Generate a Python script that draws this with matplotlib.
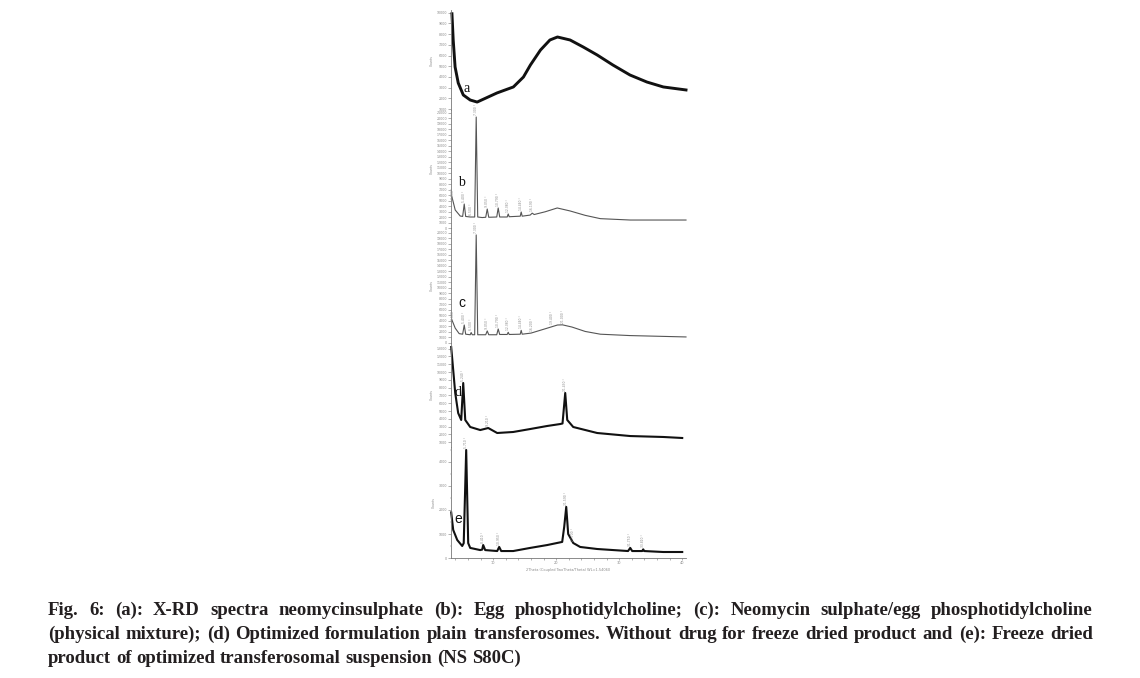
import numpy as np
import matplotlib
matplotlib.use('Agg')
from matplotlib import pyplot as plt
from matplotlib.ticker import MultipleLocator

W, H = 1140, 678

# --- data (2theta in degrees, intensity in counts) ---
tt_a = [3.45, 3.65, 3.95, 4.45, 5.25, 6.35, 7.45, 10.6, 13.2, 14.8, 15.9, 17.5,
        19.0, 20.2, 22.2, 24.3, 26.5, 29.0, 31.7, 34.4, 37.0, 40.6]
counts_a = [9900, 7450, 4930, 3430, 2310, 1840, 1650, 2500, 3060, 3990, 5110,
            6510, 7450, 7730, 7450, 6790, 6050, 5110, 4180, 3520, 3060, 2780]

tt_b = [3.45, 3.97, 4.76, 5.15, 5.40, 5.63, 6.35, 7.06, 7.30, 7.54, 8.25, 8.81,
        9.05, 9.29, 10.56, 10.79, 11.03, 12.22, 12.38, 12.54, 14.29, 14.44,
        14.60, 15.87, 16.19, 16.5, 18.25, 20.16, 22.2, 24.6, 27.0, 31.75, 40.6]
counts_b = [5640, 3270, 2180, 2100, 4360, 2100, 2000, 2000, 20180, 2000, 1900,
            1950, 3450, 1950, 2000, 3640, 2000, 2000, 2550, 2050, 2150, 2910,
            2150, 2350, 2700, 2450, 2950, 3640, 3100, 2300, 1700, 1450, 1450]
peaks_b = [3.6, 5.40, 6.5, 7.30, 9.05, 10.79, 12.38, 14.44, 16.19]

tt_c = [3.45, 3.97, 4.6, 5.15, 5.40, 5.63, 6.35, 6.50, 6.67, 7.06, 7.30, 7.54,
        8.81, 9.05, 9.29, 10.56, 10.79, 11.03, 12.22, 12.38, 12.54, 14.29,
        14.44, 14.60, 16.0, 18.3, 20.2, 21.0, 22.5, 24.6, 27.0, 31.7, 40.6]
counts_c = [4180, 2700, 1700, 1600, 3270, 1600, 1500, 1900, 1500, 1500, 19640,
            1500, 1500, 2200, 1500, 1500, 2550, 1550, 1550, 1950, 1550, 1600,
            2300, 1600, 1800, 2600, 3270, 3300, 2900, 2100, 1600, 1350, 1100]
peaks_c = [3.6, 5.40, 6.50, 7.30, 9.05, 10.79, 12.38, 14.44, 16.2, 19.4, 21.0]

tt_d = [3.33, 3.65, 3.97, 4.44, 4.92, 5.24, 5.56, 6.35, 7.94, 9.21, 10.63,
        13.17, 15.87, 18.57, 20.63, 21.0, 21.43, 21.75, 22.7, 26.5, 31.75,
        36.98, 40.0]
counts_d = [13200, 10260, 7310, 4740, 3850, 8590, 3850, 2950, 2560, 2820, 2180,
            2310, 2690, 3080, 3330, 3400, 7310, 3850, 2950, 2180, 1790, 1670,
            1540]
peaks_d = [5.24, 9.21, 21.43]

tt_e = [3.33, 3.65, 4.29, 5.08, 5.32, 5.71, 6.03, 6.35, 7.94, 8.25, 8.41, 8.73,
        10.63, 10.95, 11.27, 13.17, 15.87, 18.57, 20.95, 21.27, 21.59, 21.9,
        22.7, 23.8, 26.5, 31.4, 31.75, 32.06, 33.65, 33.81, 33.97, 36.98, 40.0]
counts_e = [1900, 1170, 750, 500, 620, 4500, 620, 420, 330, 350, 540, 330, 290,
            460, 290, 290, 420, 540, 670, 1300, 2130, 1000, 625, 460, 375, 290,
            420, 290, 290, 360, 290, 250, 250]
peaks_e = [5.71, 8.41, 10.95, 21.59, 22.7, 31.75, 33.81]

caption = [
    'Fig. 6: (a): X-RD spectra neomycinsulphate (b): Egg phosphotidylcholine; '
    '(c): Neomycin sulphate/egg phosphotidylcholine',
    '(physical mixture); (d) Optimized formulation plain transferosomes. '
    'Without drug for freeze dried product and (e): Freeze dried',
    'product of optimized transferosomal suspension (NS S80C)',
]

fig = plt.figure(figsize=(W / 100, H / 100), dpi=100)
fig.patch.set_facecolor('white')


def px_axes(top, bottom, left=451, right=686):
    return fig.add_axes([left / W, 1 - bottom / H, (right - left) / W,
                         (bottom - top) / H])


def style_panel(ax, ylim, step, last=False):
    ax.set_xlim(3.3, 40.6)
    ax.set_ylim(*ylim)
    ax.set_facecolor('none')
    for side in ['top', 'right']:
        ax.spines[side].set_visible(False)
    ax.spines['left'].set_color('#777777')
    ax.spines['left'].set_linewidth(0.6)
    ax.yaxis.set_major_locator(MultipleLocator(step))
    ax.tick_params(axis='y', length=2, width=0.4, color='#777777',
                   labelsize=2.3, labelcolor='#888888', pad=0.8)
    ax.set_ylabel('Counts', fontsize=2.3, color='#888888', labelpad=2)
    if last:
        ax.spines['bottom'].set_color('#777777')
        ax.spines['bottom'].set_linewidth(0.6)
        ax.set_xticks([10, 20, 30, 40])
        ax.xaxis.set_minor_locator(MultipleLocator(2))
        ax.tick_params(axis='x', which='both', length=1.5, width=0.4,
                       color='#777777', labelsize=2.5, labelcolor='#888888',
                       pad=1)
        ax.set_xlabel('2Theta (Coupled TwoTheta/Theta) WL=1.54060',
                      fontsize=2.5, color='#888888', labelpad=2)
    else:
        ax.spines['bottom'].set_visible(False)
        ax.set_xticks([])


def peak_labels(ax, xs, ys, peaks):
    for p in peaks:
        h = np.interp(p, xs, ys)
        ax.annotate('{0:.3f} °'.format(p), (p, h), xytext=(0, 1.5),
                    textcoords='offset points', rotation=90, ha='center',
                    va='bottom', fontsize=2.2, color='#888888',
                    annotation_clip=False)


# panel a (noisy amorphous halo -> thick line)
ax_a = px_axes(10, 110)
ax_a.plot(tt_a, counts_a, color='#111111', lw=2.1, clip_on=False,
          solid_joinstyle='round')
style_panel(ax_a, (907, 10253), 1000)

# panel b
ax_b = px_axes(110, 228)
ax_b.plot(tt_b, counts_b, color='#555555', lw=0.8, clip_on=False)
style_panel(ax_b, (0, 21455), 1000)
peak_labels(ax_b, tt_b, counts_b, peaks_b)

# panel c
ax_c = px_axes(228, 343)
ax_c.plot(tt_c, counts_c, color='#555555', lw=0.8, clip_on=False)
style_panel(ax_c, (0, 20900), 1000)
peak_labels(ax_c, tt_c, counts_c, peaks_c)

# panel d
ax_d = px_axes(343, 447)
ax_d.plot(tt_d, counts_d, color='#111111', lw=1.5, clip_on=False)
style_panel(ax_d, (385, 13720), 1000)
peak_labels(ax_d, tt_d, counts_d, peaks_d)

# panel e
ax_e = px_axes(447, 558)
ax_e.plot(tt_e, counts_e, color='#111111', lw=1.5, clip_on=False)
style_panel(ax_e, (0, 4625), 1000, last=True)
ax_e.yaxis.set_minor_locator(MultipleLocator(500))
ax_e.tick_params(axis='y', which='minor', length=1, width=0.3,
                 color='#777777')
peak_labels(ax_e, tt_e, counts_e, peaks_e)

# letters next to the curves
letters = [('a', 467, 89, 'Liberation Serif'), ('b', 461, 183, 'Liberation Serif'),
           ('c', 462, 303, 'Liberation Sans'), ('d', 458, 392, 'Liberation Serif'),
           ('e', 458, 519, 'Liberation Sans')]
for txt, x, y, fam in letters:
    fig.text(x / W, 1 - y / H, txt, fontsize=10, family=fam,
             color='#111111', ha='center', va='center')

# justified caption
kw = dict(fontsize=13.5, family='Liberation Serif', weight='bold',
          color='#231f20', va='baseline')
renderer = fig.canvas.get_renderer()
probe1 = fig.text(0, 0, 'a a', **kw)
probe2 = fig.text(0, 0, 'aa', **kw)
space = (probe1.get_window_extent(renderer).width -
         probe2.get_window_extent(renderer).width)
probe1.remove()
probe2.remove()

x0, x1 = 48, 1093
for i, line in enumerate(caption):
    y = 615 + i * 24
    words = line.split(' ')
    texts = [fig.text(0, 1 - y / H, w, **kw) for w in words]
    widths = [t.get_window_extent(renderer).width for t in texts]
    if i < len(caption) - 1:
        gap = (x1 - x0 - sum(widths)) / (len(words) - 1)
    else:
        gap = space
    x = x0
    for t, w in zip(texts, widths):
        t.set_x(x / W)
        x += w + gap

fig.savefig('out.png', dpi=100)
